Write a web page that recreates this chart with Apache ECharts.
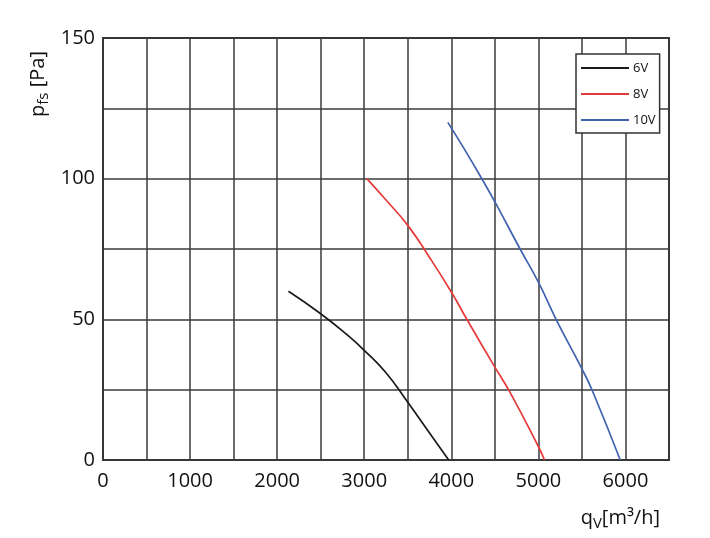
<!DOCTYPE html>
<html>
<head>
<meta charset="utf-8">
<script src="https://cdn.jsdelivr.net/npm/echarts@6/dist/echarts.min.js"></script>
<style>html,body{margin:0;padding:0;background:#fff}#c{width:710px;height:538px}</style>
</head>
<body>
<div id="c"></div>
<script>
// Data: [qV m3/h, pfs Pa]
var seriesNames = ['6V', '8V', '10V'];
var curve6V = [[2130,60],[2500,52],[2800,44.6],[3000,39],[3250,31],[3500,20.5],[3750,9.6],[3970,0]];
var curve8V = [[3030,100],[3250,92.4],[3500,83.4],[3750,72],[4000,59.7],[4175,50.2],[4500,33],[4670,24.3],[5000,4.8],[5070,0]];
var curve10V = [[3960,120],[4150,110.5],[4350,100],[4510,91.2],[4790,75],[5000,63.2],[5200,50.2],[5500,32.4],[5620,24.6],[5940,0]];
var xTicks = [0,1000,2000,3000,4000,5000,6000];
var yTicks = [0,50,100,150];

var FONT = '"Open Sans", "Noto Sans", sans-serif';
var colors = ['#1a1a1a', '#e53a3a', '#4063b0'];
var curves = [curve6V, curve8V, curve10V];

var chart = echarts.init(document.getElementById('c'), null, {renderer: 'canvas'});
chart.setOption({
  animation: false,
  backgroundColor: '#fff',
  grid: {left: 103, top: 38, right: 41, bottom: 78, show: true, borderColor: '#333', borderWidth: 2, backgroundColor: 'transparent'},
  xAxis: {
    type: 'value', min: 0, max: 6500, interval: 500,
    axisLine: {show: false},
    axisTick: {show: false},
    splitLine: {show: true, lineStyle: {color: '#3a3a3a', width: 1.5}},
    axisLabel: {
      margin: 11, color: '#111', fontSize: 20, fontFamily: FONT,
      formatter: function (v) { return xTicks.indexOf(v) >= 0 ? String(v) : ''; }
    }
  },
  yAxis: {
    type: 'value', min: 0, max: 150, interval: 25,
    axisLine: {show: false},
    axisTick: {show: false},
    splitLine: {show: true, lineStyle: {color: '#3a3a3a', width: 1.5}},
    axisLabel: {
      margin: 8, color: '#111', fontSize: 20, fontFamily: FONT,
      formatter: function (v) { return yTicks.indexOf(v) >= 0 ? String(v) : ''; }
    }
  },
  legend: {
    orient: 'vertical', left: 576, top: 54,
    padding: [7, 4, 6, 5],
    icon: 'rect',
    itemWidth: 48, itemHeight: 2, itemGap: 12,
    backgroundColor: '#fff', borderColor: '#333', borderWidth: 1.5,
    textStyle: {color: '#111', fontSize: 13, fontFamily: FONT, lineHeight: 14, padding: [0,0,0,-1]},
    data: seriesNames
  },
  series: seriesNames.map(function (n, i) {
    return {
      name: n, type: 'line', data: curves[i],
      smooth: 0.5, symbol: 'none',
      lineStyle: {color: colors[i], width: 1.7},
      itemStyle: {color: colors[i]}
    };
  }),
  graphic: [
    {
      type: 'text', x: 38, y: 84, rotation: Math.PI / 2,
      style: {
        text: '{p|p}{s|fs}{p| [Pa]}',
        align: 'center', verticalAlign: 'middle',
        rich: {
          p: {fontSize: 20, fontFamily: FONT, fill: '#111', lineHeight: 26},
          s: {fontSize: 15, fontFamily: FONT, fill: '#111', verticalAlign: 'bottom', lineHeight: 26}
        }
      }
    },
    {
      type: 'text', x: 660, y: 518,
      style: {
        text: '{p|q}{s|V}{p|[m³/h]}',
        align: 'right', verticalAlign: 'middle',
        rich: {
          p: {fontSize: 20, fontFamily: FONT, fill: '#111', lineHeight: 26},
          s: {fontSize: 15, fontFamily: FONT, fill: '#111', verticalAlign: 'bottom', lineHeight: 26}
        }
      }
    }
  ]
});
</script>
</body>
</html>
